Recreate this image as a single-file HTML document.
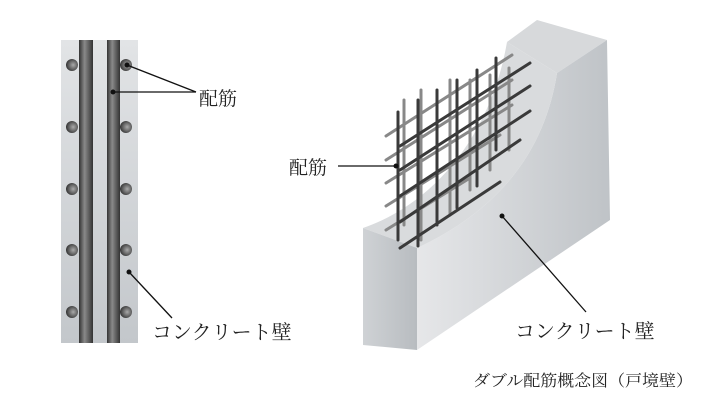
<!DOCTYPE html>
<html><head><meta charset="utf-8"><style>
body{margin:0;background:#fff;width:704px;height:406px;overflow:hidden}
text{font-family:"Liberation Serif","Noto Serif CJK SC",serif;fill:#222}
</style></head><body>
<svg width="704" height="406" viewBox="0 0 704 406" xmlns="http://www.w3.org/2000/svg">
<defs>
<linearGradient id="pan" x1="0" y1="0" x2="0" y2="1"><stop offset="0" stop-color="#e2e4e6"/><stop offset="1" stop-color="#c3c7cb"/></linearGradient>
<linearGradient id="bar" x1="0" y1="0" x2="1" y2="0"><stop offset="0" stop-color="#333"/><stop offset="0.4" stop-color="#8a8a8a"/><stop offset="1" stop-color="#333"/></linearGradient>
<radialGradient id="dot" cx="0.6" cy="0.5" r="0.6"><stop offset="0" stop-color="#aaa"/><stop offset="1" stop-color="#333"/></radialGradient>
<linearGradient id="face" x1="0" y1="0" x2="1" y2="0"><stop offset="0" stop-color="#cfd2d5"/><stop offset="1" stop-color="#b8bcc0"/></linearGradient>
<linearGradient id="right" x1="0" y1="0" x2="1" y2="0"><stop offset="0" stop-color="#e6e7e9"/><stop offset="1" stop-color="#bfc3c7"/></linearGradient>
</defs>
<rect x="61" y="40" width="77" height="303" fill="url(#pan)"/>
<rect x="79" y="40" width="14" height="303" fill="url(#bar)"/>
<rect x="107" y="40" width="13" height="303" fill="url(#bar)"/>
<g fill="url(#dot)">
<circle cx="72" cy="65" r="6"/><circle cx="126" cy="65" r="6"/>
<circle cx="72" cy="127" r="6"/><circle cx="126" cy="127" r="6"/>
<circle cx="72" cy="189" r="6"/><circle cx="126" cy="189" r="6"/>
<circle cx="72" cy="250" r="6"/><circle cx="126" cy="250" r="6"/>
<circle cx="72" cy="312" r="6"/><circle cx="126" cy="312" r="6"/>
</g>
<g stroke="#111" stroke-width="1.3" fill="none">
<line x1="127" y1="65" x2="196" y2="92"/><line x1="113" y1="92" x2="196" y2="92"/>
<line x1="129" y1="272" x2="172" y2="318"/>
</g>
<circle cx="113" cy="92" r="2.5" fill="#111"/><circle cx="127" cy="65" r="2.5" fill="#111"/><circle cx="129" cy="272" r="2.5" fill="#111"/>
<text x="199" y="105" font-size="19">配筋</text>
<text x="152" y="339" font-size="20">コンクリート壁</text>

<polygon points="507,42 537,20 607,40 557,73" fill="#d7d9db"/>
<path d="M557,73 L607,40 L610,220 L417,350 L417,248 C500,210 545,150 557,73 Z" fill="url(#right)"/>
<path d="M363,228 C430,205 490,140 507,42 L557,73 C545,150 500,210 417,248 Z" fill="#d9dbdd"/>
<polygon points="363,228 417,248 417,350 363,345" fill="url(#face)"/>
<g stroke-width="3" stroke-linecap="round">
<g stroke="#888">
<line x1="386" y1="136" x2="512" y2="55"/><line x1="386" y1="160" x2="512" y2="80"/><line x1="386" y1="183" x2="512" y2="105"/><line x1="386" y1="206" x2="500" y2="135"/><line x1="386" y1="230" x2="470" y2="178"/><line x1="404" y1="100" x2="404" y2="225"/><line x1="421" y1="90" x2="421" y2="240"/><line x1="450" y1="80" x2="450" y2="215"/><line x1="470" y1="80" x2="470" y2="190"/><line x1="490" y1="75" x2="490" y2="170"/><line x1="509" y1="68" x2="509" y2="150"/>
</g>
<g stroke="#3a3a3a">
<line x1="398" y1="112" x2="398" y2="240"/><line x1="418" y1="100" x2="418" y2="246"/><line x1="437" y1="90" x2="437" y2="225"/><line x1="457" y1="80" x2="457" y2="208"/><line x1="477" y1="70" x2="477" y2="186"/><line x1="496" y1="58" x2="496" y2="150"/>
<line x1="400" y1="146" x2="530" y2="63"/><line x1="400" y1="170" x2="530" y2="86"/><line x1="400" y1="196" x2="530" y2="111"/><line x1="400" y1="222" x2="520" y2="140"/><line x1="400" y1="248" x2="500" y2="182"/>
</g></g>
<g stroke="#111" stroke-width="1.3"><line x1="338" y1="166" x2="396" y2="166"/><line x1="502" y1="216" x2="586" y2="312"/></g>
<circle cx="396" cy="166" r="2.5" fill="#111"/><circle cx="502" cy="216" r="2.5" fill="#111"/>
<text x="289" y="174" font-size="19">配筋</text>
<text x="515" y="338" font-size="20">コンクリート壁</text>
<text x="473" y="386" font-size="16" textLength="220" lengthAdjust="spacingAndGlyphs">ダブル配筋概念図（戸境壁）</text>
</svg>
</body></html>
